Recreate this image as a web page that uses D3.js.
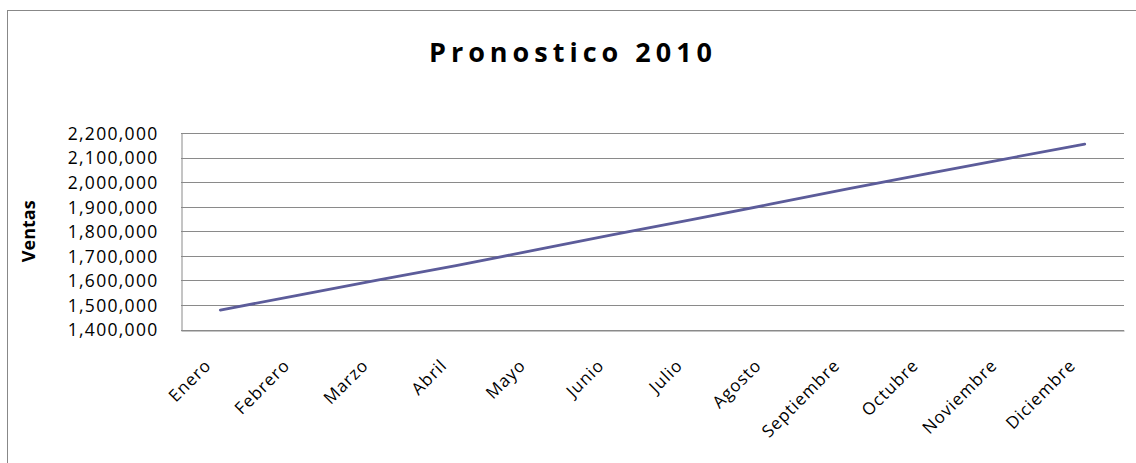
<!DOCTYPE html>
<html>
<head>
<meta charset="utf-8">
<script src="https://cdn.jsdelivr.net/npm/d3@7"></script>
<style>
  html, body { margin: 0; padding: 0; background: #fff; }
  svg { display: block; }
  text { font-family: "Open Sans", "DejaVu Sans", sans-serif; fill: #000; }
</style>
</head>
<body>
<svg id="chart" width="1136" height="463"></svg>
<script>
// Monthly sales forecast for 2010
const months = ["Enero", "Febrero", "Marzo", "Abril", "Mayo", "Junio",
                "Julio", "Agosto", "Septiembre", "Octubre", "Noviembre", "Diciembre"];
const ventas = [1479000, 1540000, 1601000, 1660000, 1723000, 1786000,
                1847000, 1910000, 1974000, 2035000, 2095000, 2155000];
const yTicks = [1400000, 1500000, 1600000, 1700000, 1800000, 1900000, 2000000, 2100000, 2200000];
const title = "Pronostico 2010";
const yTitle = "Ventas";

const svg = d3.select("#chart");
const plot = { left: 181, right: 1124, top: 133, bottom: 329.5 };

// Chart frame
svg.append("rect")
  .attr("x", 7.5).attr("y", 10.5)
  .attr("width", 1140).attr("height", 470)
  .attr("fill", "#fff").attr("stroke", "#888").attr("stroke-width", 1);

const x = d3.scaleBand().domain(months).range([plot.left, plot.right]).padding(0);
const y = d3.scaleLinear().domain([1400000, 2200000]).range([plot.bottom, plot.top]);

// Horizontal gridlines
svg.append("g")
  .selectAll("line")
  .data(yTicks)
  .join("line")
  .attr("x1", plot.left).attr("x2", plot.right)
  .attr("y1", d => Math.round(y(d)) + 0.5).attr("y2", d => Math.round(y(d)) + 0.5)
  .attr("stroke", "#8a8a8a").attr("stroke-width", 1);

// Y axis
const yAxis = svg.append("g")
  .attr("transform", `translate(${plot.left + 0.5},0)`)
  .call(d3.axisLeft(y).tickValues(yTicks).tickSize(0).tickPadding(23)
    .tickFormat(d3.format(",")));
yAxis.select(".domain").attr("stroke", "#8a8a8a");
yAxis.selectAll("text")
  .attr("font-size", 17.5)
  .attr("letter-spacing", 1.3)
  .attr("font-family", "'Open Sans', sans-serif")
  .attr("dy", "0.36em");

// X axis
const xAxis = svg.append("g")
  .attr("transform", `translate(0,${Math.round(plot.bottom) + 0.5})`)
  .call(d3.axisBottom(x).tickSize(0).tickFormat(""));
xAxis.select(".domain").attr("stroke", "#8a8a8a");

svg.append("g")
  .selectAll("text")
  .data(months)
  .join("text")
  .attr("transform", d => `translate(${x(d) + x.bandwidth() / 2 - 8},${plot.bottom + 37}) rotate(-45)`)
  .attr("text-anchor", "end")
  .attr("font-size", 17)
  .attr("letter-spacing", 1)
  .text(d => d);

// Forecast line
const line = d3.line()
  .x((d, i) => x(months[i]) + x.bandwidth() / 2)
  .y(d => y(d));
svg.append("path")
  .datum(ventas)
  .attr("d", line)
  .attr("fill", "none")
  .attr("stroke", "#5c5c9a")
  .attr("stroke-width", 2.8)
  .attr("stroke-linecap", "round");

// Titles
svg.append("text")
  .attr("x", 573).attr("y", 62)
  .attr("text-anchor", "middle")
  .attr("font-size", 27)
  .attr("font-weight", "bold")
  .attr("letter-spacing", 5)
  .text(title);

svg.append("text")
  .attr("transform", `translate(35,${(plot.top + plot.bottom) / 2}) rotate(-90)`)
  .attr("text-anchor", "middle")
  .attr("font-size", 18)
  .attr("font-weight", "bold")
  .text(yTitle);
</script>
</body>
</html>
